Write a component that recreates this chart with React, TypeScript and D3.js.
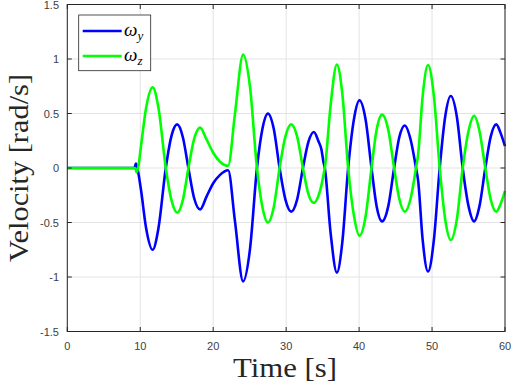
import React from "react";
import * as d3 from "d3";

const xTicks = [0, 10, 20, 30, 40, 50, 60];
const yTicks = [-1.5, -1, -0.5, 0, 0.5, 1, 1.5];
const yTickLabels = ["-1.5", "-1", "-0.5", "0", "0.5", "1", "1.5"];

const tY = [0, 9.2, 9.4, 9.6, 10.1, 10.8, 11.7, 12.5, 13.5, 14.3, 15.07, 15.85, 16.6, 17.4, 18.2, 19.1, 20.0, 20.9, 22.05, 22.97, 24.1, 25.05, 26.0, 26.75, 27.5, 28.3, 29.1, 29.9, 30.7, 31.5, 32.3, 33.05, 33.8, 34.4, 34.85, 35.1, 35.3, 36.1, 36.95, 37.7, 38.5, 39.3, 40.05, 40.9, 41.7, 42.4, 43.15, 44.0, 44.8, 45.5, 46.26, 47.1, 47.8, 48.1, 48.7, 49.45, 50.25, 51.05, 51.8, 52.56, 53.4, 54.2, 55.0, 55.76, 56.5, 57.3, 58.05, 58.8, 59.4, 60];
const omegaY = [0, 0, 0.04, 0.0, -0.2, -0.55, -0.75, -0.55, 0, 0.3, 0.4, 0.28, 0, -0.28, -0.38, -0.26, -0.14, -0.065, -0.02, -0.48, -1.04, -0.74, 0, 0.36, 0.5, 0.36, 0, -0.29, -0.4, -0.29, 0, 0.24, 0.33, 0.25, 0.165, 0.06, 0, -0.6, -0.96, -0.68, 0, 0.45, 0.62, 0.44, 0, -0.35, -0.49, -0.35, 0, 0.28, 0.39, 0.25, 0, -0.12, -0.65, -0.95, -0.66, 0, 0.47, 0.66, 0.47, 0, -0.35, -0.49, -0.35, 0, 0.29, 0.4, 0.32, 0.2];

const tZ = [0, 9.3, 9.5, 9.7, 10.1, 10.8, 11.7, 12.5, 13.5, 14.3, 15.07, 15.85, 16.6, 17.4, 18.2, 19.1, 20.0, 20.9, 22.05, 22.97, 24.1, 25.05, 26.0, 26.75, 27.5, 28.3, 29.1, 29.9, 30.7, 31.5, 32.3, 33.05, 33.8, 34.4, 34.85, 35.1, 35.3, 36.1, 36.95, 37.7, 38.5, 39.3, 40.05, 40.9, 41.7, 42.4, 43.15, 44.0, 44.8, 45.5, 46.26, 47.1, 47.8, 48.1, 48.7, 49.45, 50.25, 51.05, 51.8, 52.56, 53.4, 54.2, 55.0, 55.76, 56.5, 57.3, 58.05, 58.8, 59.4, 60];
const omegaZ = [0, 0, -0.04, 0.0, 0.2, 0.55, 0.74, 0.55, 0, -0.3, -0.41, -0.29, 0, 0.27, 0.37, 0.26, 0.14, 0.06, 0.02, 0.49, 1.04, 0.74, 0, -0.36, -0.5, -0.36, 0, 0.29, 0.4, 0.29, 0, -0.24, -0.32, -0.26, -0.155, -0.07, 0, 0.58, 0.95, 0.68, 0, -0.44, -0.62, -0.44, 0, 0.35, 0.49, 0.35, 0, -0.28, -0.4, -0.27, 0, 0.13, 0.65, 0.945, 0.66, 0, -0.47, -0.66, -0.47, 0, 0.34, 0.48, 0.34, 0, -0.29, -0.4, -0.33, -0.21];

const W = 512, H = 388;
const L = 67.3, R = 505, T = 4.5, B = 331.5;

export default function App() {
  const x = d3.scaleLinear().domain([0, 60]).range([L, R]);
  const y = d3.scaleLinear().domain([-1.5, 1.5]).range([B, T]);
  const line = d3.line<[number, number]>().x(d => x(d[0])).y(d => y(d[1])).curve(d3.curveMonotoneX);
  const dY = line(tY.map((t, i) => [t, omegaY[i]]) as [number, number][]) || "";
  const dZ = line(tZ.map((t, i) => [t, omegaZ[i]]) as [number, number][]) || "";
  const axisColor = "#262626";
  const tickLen = 4.5;
  return (
    <svg width={W} height={H} style={{ position: "absolute", left: 0, top: 0, background: "#fff" }}>
      <rect x={0} y={0} width={W} height={H} fill="#fff" />
      {/* grid */}
      {xTicks.map(t => (
        <line key={"gx" + t} x1={x(t)} x2={x(t)} y1={T} y2={B} stroke="#e3e3e3" strokeWidth={1} />
      ))}
      {yTicks.map(t => (
        <line key={"gy" + t} x1={L} x2={R} y1={y(t)} y2={y(t)} stroke="#e3e3e3" strokeWidth={1} />
      ))}
      {/* series */}
      <path d={dY} fill="none" stroke="#0000ff" strokeWidth={2.6} strokeLinejoin="round" />
      <path d={dZ} fill="none" stroke="#00ff00" strokeWidth={2.6} strokeLinejoin="round" />
      {/* box */}
      <rect x={L} y={T} width={R - L} height={B - T} fill="none" stroke={axisColor} strokeWidth={1} />
      {/* ticks */}
      {xTicks.map(t => (
        <g key={"tx" + t}>
          <line x1={x(t)} x2={x(t)} y1={B} y2={B - tickLen} stroke={axisColor} />
          <line x1={x(t)} x2={x(t)} y1={T} y2={T + tickLen} stroke={axisColor} />
          <text x={x(t)} y={350} textAnchor="middle" fontFamily="Liberation Sans, Arial, sans-serif" fontSize={11} fill="#404040">{t}</text>
        </g>
      ))}
      {yTicks.map((t, i) => (
        <g key={"ty" + t}>
          <line x1={L} x2={L + tickLen} y1={y(t)} y2={y(t)} stroke={axisColor} />
          <line x1={R} x2={R - tickLen} y1={y(t)} y2={y(t)} stroke={axisColor} />
          <text x={59} y={y(t) + 4} textAnchor="end" fontFamily="Liberation Sans, Arial, sans-serif" fontSize={11} fill="#404040">{yTickLabels[i]}</text>
        </g>
      ))}
      {/* axis labels */}
      <text x={285} y={377} textAnchor="middle" fontFamily="Liberation Serif, serif" fontSize={28} textLength={104} lengthAdjust="spacingAndGlyphs" fill="#262626">Time [s]</text>
      <text transform={`translate(28,168) rotate(-90)`} textAnchor="middle" fontFamily="Liberation Serif, serif" fontSize={28} textLength={188} lengthAdjust="spacingAndGlyphs" fill="#262626">Velocity [rad/s]</text>
      {/* legend */}
      <rect x={78.7} y={15} width={72} height={55.7} fill="#fff" stroke={axisColor} strokeWidth={0.8} />
      <line x1={82.7} x2={121.7} y1={31} y2={31} stroke="#0000ff" strokeWidth={2.6} />
      <line x1={82.7} x2={121.7} y1={56} y2={56} stroke="#00ff00" strokeWidth={2.6} />
      <text x={124} y={36} fontFamily="Liberation Serif, serif" fontStyle="italic" fontSize={19} fill="#000">
        ω<tspan fontSize={13} dy={4}>y</tspan>
      </text>
      <text x={124} y={61} fontFamily="Liberation Serif, serif" fontStyle="italic" fontSize={19} fill="#000">
        ω<tspan fontSize={13} dy={4}>z</tspan>
      </text>
    </svg>
  );
}
